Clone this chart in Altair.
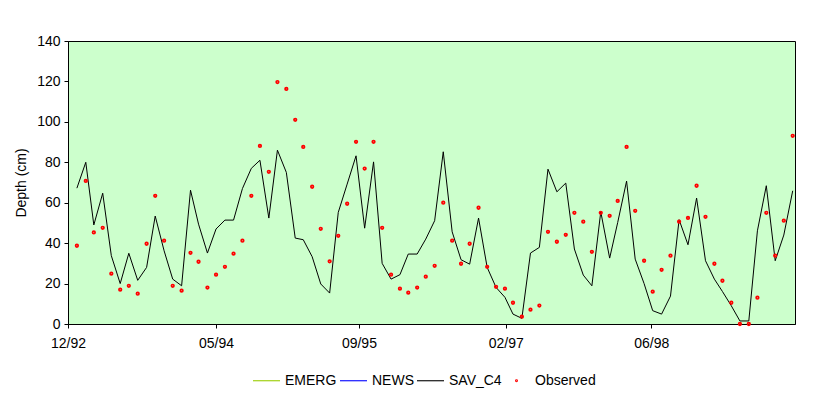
import altair as alt
import pandas as pd

# Monthly series, Jan 1993 .. Nov 1999 (83 months)
sav_c4 = [67.2, 80, 49, 64.7, 33.8, 20, 35, 21.6, 28, 53.4, 36.2, 22.2, 18.9, 66.2, 49.4, 35.1,
          47, 51.4, 51.4, 67, 77, 81, 52.4, 86,
          75, 42.5, 41.7, 33.3, 19.8, 15.3, 55.2, 69.2, 83.2, 47.4, 80.2, 30, 22.2, 24.4, 34.6,
          34.6, 42, 51.1, 85.2, 45.6, 31.8, 29.6, 52.4, 28, 18.1, 13.2, 4.9, 2.8, 35.1, 37.9,
          76.6, 65.4, 69.7, 37.1, 24.2, 18.9, 55.5, 32.6, 50.2, 70.7, 32.1, 20, 6.6, 4.9, 13.8,
          51.6, 39.2, 62.3, 31.3, 22.2, 16.1, 9, 1.5, 1.5, 46.1, 68.4, 31.3, 44.0, 65.9]
observed = [38.7, 70.8, 45.3, 47.6, 24.9, 17.0, 18.9, 15.0, 39.7, 63.4, 41.2, 18.9, 16.5, 35.2,
            30.8, 18.0, 24.4, 28.3, 34.8, 41.2, 63.4, 88.1, 75.3, 119.7,
            116.3, 101.0, 87.6, 67.9, 47.1, 31.0, 43.6, 59.5, 90.1, 76.9, 90.1, 47.6, 24.4, 17.5,
            15.5, 18.0, 23.4, 28.8, 60.0, 41.2, 29.8, 39.7, 57.5, 28.3, 18.4, 17.5, 10.5, 3.6, 7.1, 9.1,
            45.6, 40.7, 44.1, 55.0, 50.6, 35.7, 55.0, 53.5, 60.9, 87.6, 56.0, 31.3, 16.0, 26.8, 33.8,
            50.6, 52.5, 68.4, 53.0, 29.8, 21.4, 10.5, 0, 0, 13.0, 55.0, 33.8, 51.1, 93.1]
dates = pd.date_range("1993-01-01", periods=len(sav_c4), freq="MS").strftime("%Y-%m-%d").tolist()

series_names = ["EMERG", "NEWS", "SAV_C4", "Observed"]
series_colors = ["#99CC00", "#0000FF", "#000000", "#FF0000"]
LINE_SHAPE = "M-1,0H1"
DOT_SHAPE = "M-0.07,0A0.07,0.07 0 1,0 0.07,0A0.07,0.07 0 1,0 -0.07,0Z"
series_shapes = [LINE_SHAPE, LINE_SHAPE, LINE_SHAPE, DOT_SHAPE]
y_ticks = [0, 20, 40, 60, 80, 100, 120, 140]
x_tick_dates = [(1992, 12, 1), (1994, 5, 1), (1995, 9, 11), (1997, 2, 4), (1998, 6, 26)]

df_line = pd.DataFrame({"date": dates, "depth": sav_c4, "series": "SAV_C4"})
df_obs = pd.DataFrame({"date": dates, "depth": observed, "series": "Observed"})

FONT = "Liberation Sans"

x_enc = alt.X("date:T",
              scale=alt.Scale(domain=[alt.DateTime(year=1992, month=12, date=1),
                                      alt.DateTime(year=1999, month=11, date=9)]),
              axis=alt.Axis(values=[alt.DateTime(year=y, month=m, date=d) for y, m, d in x_tick_dates],
                            format="%m/%y", title=None, grid=False, tickSize=4,
                            labelAlign="center", labelFlush=False,
                            labelPadding=8, labelFontSize=14, labelFont=FONT,
                            labelColor="black", domainColor="black", tickColor="black"))
y_enc = alt.Y("depth:Q",
              scale=alt.Scale(domain=[0, 140], nice=False),
              axis=alt.Axis(values=y_ticks, title="Depth (cm)", grid=False, tickSize=4,
                            labelPadding=4, labelFontSize=14, labelFont=FONT, labelColor="black",
                            titleFont=FONT, titleFontSize=14, titleFontWeight="normal",
                            titleColor="black", titlePadding=8,
                            domainColor="black", tickColor="black"))

legend = alt.Legend(title=None, orient="none", legendX=184, legendY=325,
                    direction="horizontal", symbolSize=729, symbolStrokeWidth=1.1,
                    labelFont=FONT, labelFontSize=14, labelColor="black",
                    labelOffset=4, columnPadding=0, padding=0)
color_enc = alt.Color("series:N", scale=alt.Scale(domain=series_names, range=series_colors),
                      legend=legend)
shape_enc = alt.Shape("series:N", scale=alt.Scale(domain=series_names, range=series_shapes),
                      legend=legend)

lines = alt.Chart(df_line).mark_line(strokeWidth=1).encode(
    x=x_enc, y=y_enc, color=color_enc,
)

points = alt.Chart(df_obs).mark_point(filled=False, size=1380, strokeWidth=1.7, opacity=1).encode(
    x="date:T", y="depth:Q", color=color_enc, shape=shape_enc,
)

chart = alt.layer(lines, points).properties(
    width=727, height=283,
    autosize=alt.AutoSizeParams(type="none"),
    padding={"left": 60, "top": 33, "right": 28, "bottom": 70},
    background="white",
).configure_view(fill="#CCFFCC", stroke="black", strokeWidth=1)

chart.save("out.html", embed_options={"renderer": "svg", "actions": False})
